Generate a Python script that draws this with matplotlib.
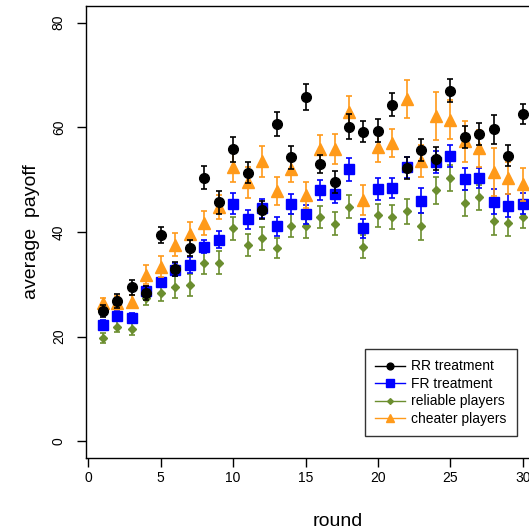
import matplotlib
matplotlib.use("Agg")
import matplotlib.pyplot as plt
from matplotlib.lines import Line2D

plt.rcParams['font.family'] = ['Liberation Sans', 'DejaVu Sans']

rounds = list(range(1, 31))

rr_mean = [24.9, 26.8, 29.4, 28.3, 39.4, 32.9, 36.9, 50.4, 45.7, 55.8,
           51.3, 44.2, 60.6, 54.3, 65.8, 53.0, 49.6, 60.1, 59.2, 59.4,
           64.3, 52.3, 55.7, 54.0, 67.0, 58.2, 58.7, 59.6, 54.6, 62.6]
rr_err = [1.1, 1.3, 1.4, 1.3, 1.5, 1.4, 1.5, 2.2, 2.2, 2.4,
          2.0, 1.8, 2.3, 2.2, 2.5, 1.8, 2.1, 2.4, 2.0, 2.2,
          2.2, 2.1, 2.1, 2.2, 2.2, 2.1, 2.1, 2.8, 2.0, 1.9]

fr_mean = [22.2, 24.0, 23.6, 28.7, 30.4, 32.8, 33.7, 37.2, 38.5, 45.4,
           42.4, 44.5, 41.1, 45.4, 43.4, 48.0, 47.3, 52.0, 40.7, 48.2,
           48.4, 52.4, 46.0, 53.4, 54.5, 50.1, 50.3, 45.8, 45.0, 45.4]
fr_err = [1.0, 0.9, 0.9, 1.0, 0.8, 1.3, 1.5, 1.3, 1.6, 2.0,
          1.9, 1.8, 1.8, 1.9, 1.8, 1.9, 1.8, 2.2, 1.8, 2.1,
          1.9, 2.0, 2.4, 2.1, 2.1, 2.1, 1.9, 2.4, 2.2, 2.0]

rel_mean = [19.7, 21.9, 21.5, 27.3, 28.4, 29.4, 29.9, 34.1, 34.1, 40.7,
            37.6, 38.8, 36.9, 41.2, 41.1, 42.9, 41.6, 44.8, 37.2, 43.2,
            42.9, 44.0, 41.1, 48.0, 50.3, 45.5, 46.6, 42.1, 41.7, 42.9]
rel_err = [1.0, 1.1, 1.1, 1.3, 1.6, 2.1, 2.1, 2.1, 2.2, 2.2,
           2.1, 2.2, 1.9, 2.2, 2.2, 2.1, 2.2, 2.2, 2.2, 2.2,
           2.3, 2.4, 2.6, 2.6, 2.5, 2.5, 2.4, 2.7, 2.5, 2.2]

che_mean = [26.4, 26.5, 26.7, 31.8, 33.4, 37.6, 39.7, 41.8, 44.8, 52.5,
            49.5, 53.5, 47.9, 52.1, 47.1, 55.8, 55.9, 63.0, 46.1, 56.3,
            57.0, 65.4, 53.6, 62.2, 61.5, 57.3, 56.0, 51.5, 50.3, 49.1]
che_err = [1.0, 1.2, 1.3, 1.8, 2.0, 2.2, 2.3, 2.3, 2.3, 3.0,
           3.0, 3.0, 2.7, 2.5, 2.5, 2.7, 2.9, 3.0, 2.9, 3.0,
           2.7, 3.6, 3.0, 4.6, 3.7, 4.0, 3.5, 4.6, 3.0, 3.1]

labels = ["RR treatment", "FR treatment", "reliable players", "cheater players"]
colors = ["#000000", "#0000ff", "#6b8e2f", "#ff9a1a"]
markers = ["o", "s", "D", "^"]
msizes = [7, 7.5, 4.2, 8]

W, H = 529, 531
fig = plt.figure(figsize=(W / 100, H / 100), dpi=100)
ax = fig.add_axes([86 / W, 73 / H, (539.6 - 86) / W, 452 / H])

series = [(rr_mean, rr_err), (fr_mean, fr_err), (rel_mean, rel_err), (che_mean, che_err)]
draw_order = [2, 1, 3, 0]
for z, i in enumerate(draw_order):
    m, e = series[i]
    ax.errorbar(rounds, m, yerr=e, fmt=markers[i], color=colors[i],
                ms=msizes[i], mec=colors[i], ecolor=colors[i],
                elinewidth=1.2, capsize=2.5, capthick=1.2, zorder=3 + z)

ax.set_xlim(-0.16, 31.16)
ax.set_ylim(-3.2, 83.2)
ax.set_xticks([0, 5, 10, 15, 20, 25, 30])
ax.set_yticks([0, 20, 40, 60, 80])
for s in ["left", "bottom", "top", "right"]:
    ax.spines[s].set_linewidth(1.0)
ax.tick_params(axis="both", direction="out", length=6.5, width=1.0,
               labelsize=10, colors="#000000")
ax.tick_params(axis="y", pad=8)
ax.tick_params(axis="x", pad=3)
for t in ax.get_yticklabels():
    t.set_rotation(90)
    t.set_va("center")

ax.set_xlabel("round", fontsize=14)
ax.set_ylabel("average  payoff", fontsize=14)
ax.xaxis.set_label_coords((338 - 86) / (539.6 - 86), -(521 - 458) / 452)
ax.xaxis.label.set_va("center")
ax.yaxis.set_label_coords(-(86 - 31) / (539.6 - 86), (458 - 232) / 452)
ax.yaxis.label.set_va("center")

handles = [Line2D([0], [0], color=colors[i], marker=markers[i],
                  ms=msizes[i] * 0.7, lw=1.0) for i in range(4)]
leg = ax.legend(handles, labels, loc="upper left",
                bbox_to_anchor=(365 / W, 1 - 349 / H),
                bbox_transform=fig.transFigure, fontsize=10,
                frameon=True, fancybox=False, edgecolor="#000000",
                borderaxespad=0, borderpad=0.75, labelspacing=0.25,
                handlelength=2.1, handletextpad=0.45)
leg.get_frame().set_linewidth(1.0)
leg.set_zorder(10)

fig.savefig("out.png", dpi=100)
